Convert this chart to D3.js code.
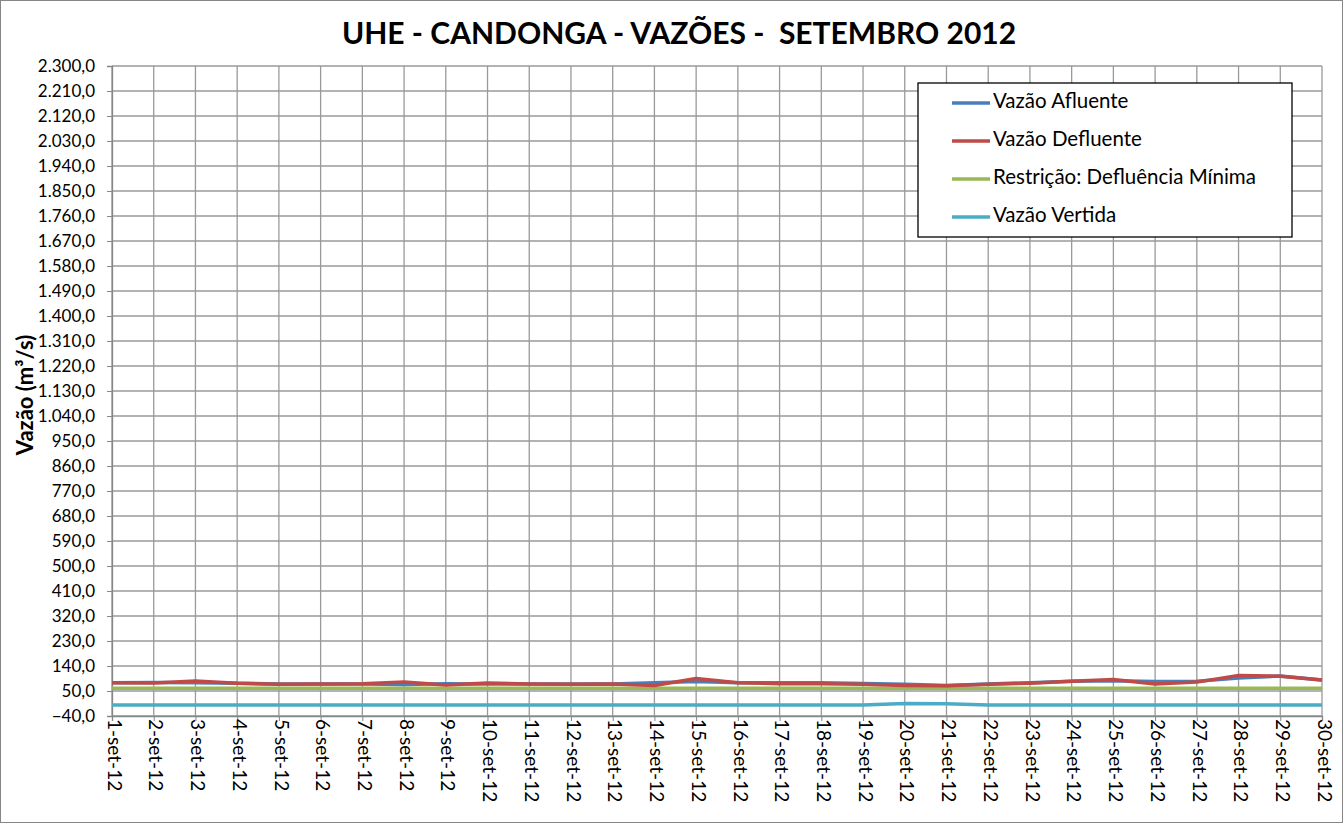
<!DOCTYPE html>
<html><head><meta charset="utf-8">
<script src="https://cdn.jsdelivr.net/npm/d3@7"></script>
<style>
body{margin:0;background:#fff;}
svg{display:block;font-family:Lato, "Open Sans", sans-serif;}
</style></head>
<body><svg id="c" width="1343" height="823"></svg>
<script>
const days = ["1-set-12","2-set-12","3-set-12","4-set-12","5-set-12","6-set-12","7-set-12","8-set-12","9-set-12","10-set-12","11-set-12","12-set-12","13-set-12","14-set-12","15-set-12","16-set-12","17-set-12","18-set-12","19-set-12","20-set-12","21-set-12","22-set-12","23-set-12","24-set-12","25-set-12","26-set-12","27-set-12","28-set-12","29-set-12","30-set-12"];
const afluente = [80,81,80,78,75,75,75,73,76,75,75,75,75,80,84,80,80,80,77,74,70,75,80,85,87,84,85,97,104,90];
const defluente = [80,79,86,78,74,75,76,82,72,79,75,74,75,70,95,80,76,76,74,70,69,74,78,85,91,75,82,106,103,90];
const restricao = [60,60,60,60,60,60,60,60,60,60,60,60,60,60,60,60,60,60,60,60,60,60,60,60,60,60,60,60,60,60];
const vertida = [0,0,0,0,0,0,0,0,0,0,0,0,0,0,0,0,0,0,0,5,4,0,0,0,0,0,0,0,0,0];
const yTicks = [-40,50,140,230,320,410,500,590,680,770,860,950,1040,1130,1220,1310,1400,1490,1580,1670,1760,1850,1940,2030,2120,2210,2300];
const seriesNames = ["Vazão Afluente","Vazão Defluente","Restrição: Defluência Mínima","Vazão Vertida"];
const seriesColors = ["#4a7ebb","#be4b48","#98b954","#4bacc6"];
const seriesData = [afluente, defluente, restricao, vertida];

const svg = d3.select("#c");
const W = 1343, H = 823;
svg.append("rect").attr("x",0.5).attr("y",0.5).attr("width",W-1).attr("height",H-1)
  .attr("fill","#fff").attr("stroke","#868686");

const L = 112, R = 1322, T = 66, B = 716;
const x = d3.scalePoint().domain(days).range([L,R]);
const y = d3.scaleLinear().domain([-40,2300]).range([B,T]);
const loc = d3.formatLocale({decimal:",",thousands:".",grouping:[3],currency:["R$",""]});
const fmt = loc.format(",.1f");

// grid
const g = svg.append("g");
g.selectAll("line.h").data(yTicks).join("line")
  .attr("x1",L).attr("x2",R).attr("y1",d=>y(d)).attr("y2",d=>y(d))
  .attr("stroke","#9a9a9a").attr("stroke-width",1.3);
g.selectAll("line.v").data(days).join("line")
  .attr("x1",d=>x(d)).attr("x2",d=>x(d)).attr("y1",T).attr("y2",B)
  .attr("stroke","#9a9a9a").attr("stroke-width",1.3);

// y axis
const ya = svg.append("g").attr("transform",`translate(${L},0)`)
  .call(d3.axisLeft(y).tickValues(yTicks).tickFormat(fmt).tickSize(5).tickPadding(12));
ya.select(".domain").attr("stroke","#868686").attr("stroke-width",1.3);
ya.selectAll(".tick line").attr("stroke","#868686");
ya.selectAll("text").attr("font-size",17).attr("fill","#000").attr("font-family","Lato, sans-serif");

// x axis
const xa = svg.append("g").attr("transform",`translate(0,${B})`)
  .call(d3.axisBottom(x).tickSize(5).tickPadding(0));
xa.select(".domain").attr("stroke","#868686").attr("stroke-width",1.3);
xa.selectAll(".tick line").attr("stroke","#868686");
xa.selectAll(".tick text").attr("font-size",19).attr("fill","#000").attr("font-family","Lato, sans-serif")
  .attr("text-anchor","start").attr("dy",null).attr("dominant-baseline","middle")
  .attr("x",0).attr("y",0).attr("transform","translate(0,3) rotate(90)");

// lines
const line = d3.line().x((d,i)=>x(days[i])).y(d=>y(d));
[3,2,0,1].forEach(k=>{
  svg.append("path").datum(seriesData[k]).attr("d",line).attr("fill","none")
    .attr("stroke",seriesColors[k]).attr("stroke-width",3.5).attr("stroke-linejoin","round");
});

// title
svg.append("text").attr("x",679).attr("y",44).attr("text-anchor","middle")
  .attr("font-size",30).attr("font-weight","bold").style("white-space","pre")
  .text("UHE - CANDONGA - VAZÕES -  SETEMBRO 2012");

// y label
svg.append("text").attr("transform","translate(33,395) rotate(-90)").attr("text-anchor","middle")
  .attr("font-size",22).attr("font-weight","bold").text("Vazão (m³/s)");

// legend
const lg = svg.append("g");
lg.append("rect").attr("x",918).attr("y",83).attr("width",374).attr("height",154)
  .attr("fill","#fff").attr("stroke","#000").attr("stroke-width",1.3);
seriesNames.forEach((n,k)=>{
  const yy = 103 + k*38;
  lg.append("line").attr("x1",952).attr("x2",990).attr("y1",yy).attr("y2",yy)
    .attr("stroke",seriesColors[k]).attr("stroke-width",3.5);
  lg.append("text").attr("x",993).attr("y",yy).attr("dominant-baseline","middle")
    .attr("font-size",20.5).text(n);
});
</script></body></html>
